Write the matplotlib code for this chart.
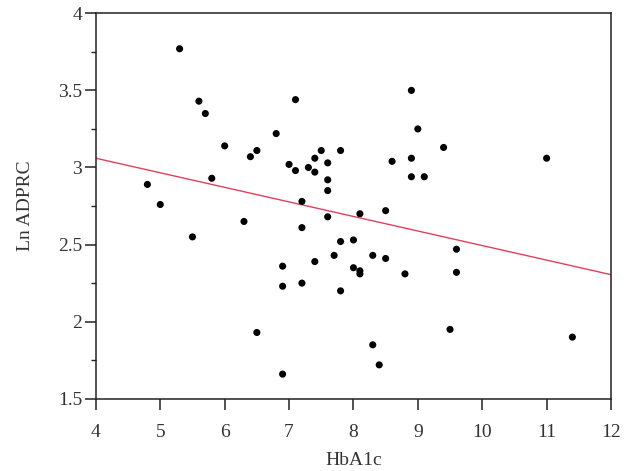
import matplotlib
matplotlib.use('Agg')
import matplotlib.pyplot as plt
from matplotlib.ticker import MultipleLocator

# HbA1c vs Ln ADPRC
HBA1C = [
    5.3, 5.6, 5.7, 7.1, 6.8, 6.0, 6.4, 6.5, 7.5, 7.8,
    7.4, 7.0, 7.1, 7.3, 7.4, 7.6, 7.6, 7.6, 4.8, 5.8,
    5.0, 7.2, 8.1, 7.6, 6.3, 7.2, 5.5, 7.8, 8.0, 8.9,
    9.0, 9.4, 8.9, 11.0, 8.6, 8.9, 9.1, 8.5, 9.6, 6.9,
    7.4, 7.7, 8.0, 8.1, 8.1, 6.9, 7.2, 7.8, 6.5, 6.9,
    8.3, 8.5, 8.8, 9.6, 8.3, 8.4, 9.5, 11.4,
]
LN_ADPRC = [
    3.77, 3.43, 3.35, 3.44, 3.22, 3.14, 3.07, 3.11, 3.11, 3.11,
    3.06, 3.02, 2.98, 3.00, 2.97, 3.03, 2.92, 2.85, 2.89, 2.93,
    2.76, 2.78, 2.70, 2.68, 2.65, 2.61, 2.55, 2.52, 2.53, 3.50,
    3.25, 3.13, 3.06, 3.06, 3.04, 2.94, 2.94, 2.72, 2.47, 2.36,
    2.39, 2.43, 2.35, 2.33, 2.31, 2.23, 2.25, 2.20, 1.93, 1.66,
    2.43, 2.41, 2.31, 2.32, 1.85, 1.72, 1.95, 1.90,
]

# regression line end points
FIT_X = [4, 12]
FIT_Y = [3.06, 2.305]

TEXT_COLOR = '#333333'

plt.rcParams['font.family'] = ['Liberation Serif', 'DejaVu Serif']
plt.rcParams['font.size'] = 14

fig = plt.figure(figsize=(6.32, 4.71), dpi=100)
ax = fig.add_axes([0.1517, 0.1533, 0.8151, 0.8185])

ax.plot(FIT_X, FIT_Y, color='#e2405a', linewidth=1.0, zorder=2)
ax.scatter(HBA1C, LN_ADPRC, s=26, color='black', edgecolors='none', zorder=3)

ax.set_xlim(4, 12)
ax.set_ylim(1.5, 4)
ax.xaxis.set_major_locator(MultipleLocator(1))
ax.yaxis.set_minor_locator(MultipleLocator(0.25))
ax.set_yticks([1.5, 2, 2.5, 3, 3.5, 4])
ax.set_yticklabels(['1.5', '2', '2.5', '3', '3.5', '4'])

for side in ax.spines:
    ax.spines[side].set_color('#222222')
    ax.spines[side].set_linewidth(1.1)

ax.tick_params(axis='both', which='major', direction='out', length=8,
               width=1.1, color='#222222', labelcolor=TEXT_COLOR)
ax.tick_params(axis='x', which='major', pad=10)
ax.tick_params(axis='y', which='major', pad=2)
ax.tick_params(axis='y', which='minor', direction='out', length=3.5,
               width=1.0, color='#222222')
ax.tick_params(top=False, right=False)

ax.set_xlabel('HbA1c', color=TEXT_COLOR, labelpad=8)
ax.set_ylabel('Ln ADPRC', color=TEXT_COLOR, labelpad=17)

fig.savefig('out.png', dpi=100)
